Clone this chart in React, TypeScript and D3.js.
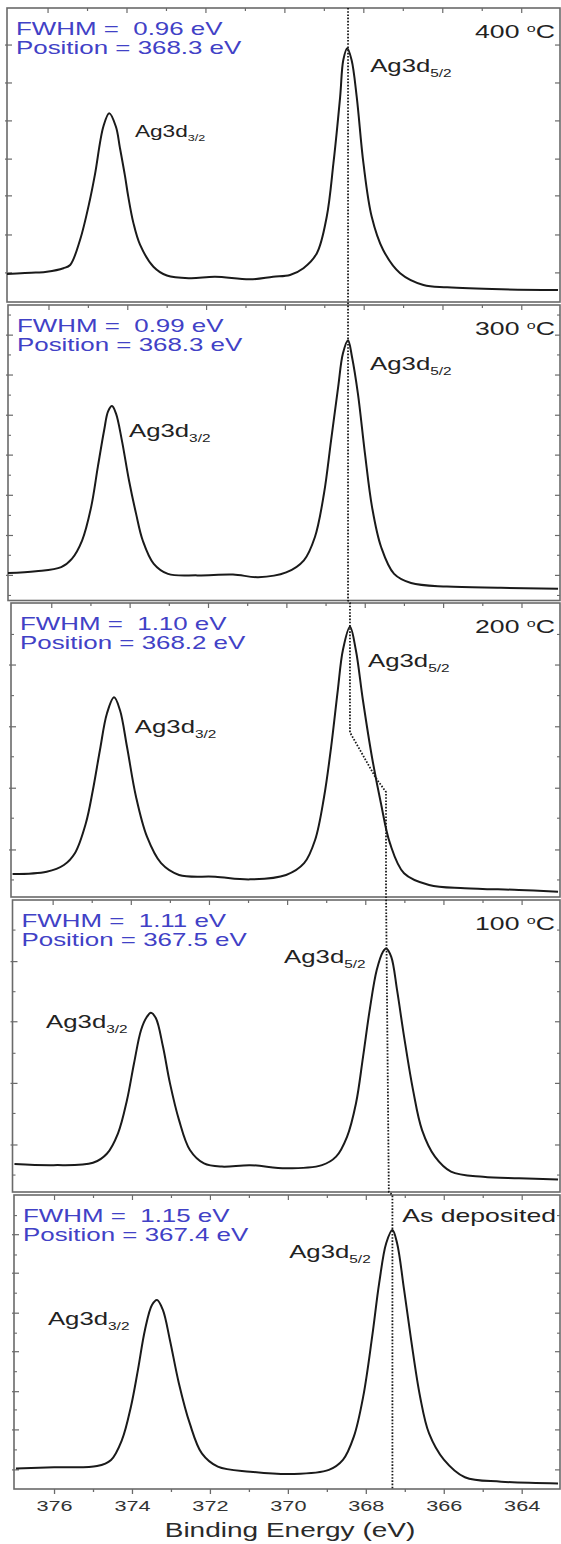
import * as d3 from "d3";

// ---- data (binding energy in eV, intensity in % of panel height) ----
const temperatures = ["400", "300", "200", "100", "As deposited"];
const fwhmValues = ["0.96", "0.99", "1.10", "1.11", "1.15"];
const positionValues = ["368.3", "368.3", "368.2", "367.5", "367.4"];

const spectrum400 = [
  [377.04, 9.5], [376.31, 10.0], [376.03, 10.3], [375.61, 11.5], [375.44, 12.6], [375.19, 21.1],
  [374.94, 34.7], [374.81, 43.5], [374.6, 59.6], [374.45, 64.2], [374.28, 59.6], [374.18, 52.5],
  [374.05, 42.8], [373.97, 36.0], [373.84, 27.0], [373.67, 19.5], [373.33, 12.0], [372.99, 9.0],
  [372.4, 8.1], [371.77, 8.6], [370.88, 7.7], [370.3, 8.6], [369.87, 9.2], [369.53, 11.5],
  [369.19, 16.6], [368.94, 29.0], [368.77, 47.2], [368.6, 69.8], [368.52, 82.3], [368.42, 86.3],
  [368.31, 82.3], [368.18, 69.8], [368.01, 47.2], [367.8, 29.0], [367.51, 17.7], [367.08, 9.8],
  [366.49, 5.8], [365.89, 5.0], [364.52, 4.3], [363.08, 4.1],
];

const spectrum300 = [
  [377.04, 9.3], [376.33, 9.9], [375.69, 11.3], [375.42, 14.1], [375.16, 20.3], [374.93, 31.6],
  [374.76, 45.2], [374.6, 57.6], [374.5, 64.0], [374.4, 65.8], [374.3, 63.3], [374.15, 54.2],
  [373.97, 40.7], [373.79, 29.4], [373.62, 20.3], [373.34, 12.4], [372.98, 9.0], [372.24, 8.5],
  [371.33, 8.8], [370.69, 7.9], [369.98, 9.5], [369.53, 13.6], [369.25, 21.5], [369.02, 36.2],
  [368.84, 54.2], [368.66, 72.3], [368.54, 83.6], [368.41, 88.1], [368.31, 82.5], [368.16, 70.1],
  [367.98, 49.7], [367.8, 31.6], [367.57, 18.1], [367.24, 9.0], [366.81, 5.9], [365.9, 4.7],
  [364.53, 4.3], [363.08, 4.0],
];

const spectrum200 = [
  [377.0, 7.8], [376.13, 8.6], [375.69, 10.9], [375.41, 14.9], [375.13, 25.1], [374.95, 36.4],
  [374.77, 50.0], [374.59, 62.5], [374.41, 67.9], [374.26, 63.6], [374.08, 51.1], [373.85, 34.1],
  [373.57, 20.5], [373.21, 11.5], [372.75, 7.5], [371.83, 6.9], [370.94, 6.0], [370.02, 7.5],
  [369.56, 11.5], [369.28, 19.4], [369.05, 34.1], [368.87, 51.1], [368.7, 70.4], [368.57, 84.0],
  [368.39, 91.9], [368.24, 84.0], [368.06, 67.0], [367.83, 47.7], [367.6, 31.9], [367.37, 18.3],
  [367.01, 8.1], [366.37, 4.1], [365.46, 3.0], [364.08, 2.4], [363.08, 1.8],
];

const spectrum100 = [
  [376.99, 9.6], [375.99, 9.2], [374.98, 10.0], [374.62, 13.2], [374.34, 20.1], [374.11, 31.5],
  [373.93, 44.1], [373.75, 55.5], [373.6, 60.0], [373.5, 61.4], [373.37, 59.5], [373.19, 49.8],
  [373.01, 37.2], [372.78, 24.7], [372.5, 14.4], [372.14, 9.8], [371.68, 8.7], [370.96, 9.2],
  [370.04, 8.1], [369.12, 9.2], [368.76, 12.1], [368.48, 18.9], [368.25, 30.4], [368.07, 46.3],
  [367.9, 62.3], [367.72, 76.0], [367.56, 82.3], [367.48, 83.4], [367.35, 80.6], [367.2, 69.2],
  [367.02, 53.2], [366.79, 34.9], [366.56, 21.2], [366.23, 12.1], [365.82, 7.0], [365.0, 5.2],
  [364.08, 4.7], [363.08, 4.3],
];

const spectrumAsDep = [
  [376.99, 7.0], [376.01, 7.4], [374.91, 7.8], [374.55, 9.9], [374.27, 16.7], [374.04, 28.0],
  [373.86, 40.5], [373.68, 54.1], [373.5, 62.6], [373.37, 64.3], [373.22, 60.9], [373.04, 50.7],
  [372.81, 36.0], [372.53, 22.3], [372.22, 12.1], [371.81, 7.6], [370.98, 5.9], [369.88, 5.1],
  [368.96, 6.5], [368.6, 9.9], [368.32, 17.8], [368.08, 31.4], [367.85, 51.8], [367.67, 70.0],
  [367.49, 83.6], [367.33, 88.1], [367.21, 83.6], [367.03, 67.7], [366.85, 50.7], [366.62, 31.4],
  [366.39, 18.9], [366.01, 10.0], [365.47, 4.0], [364.54, 2.5], [363.08, 1.9],
];

const spectra = [spectrum400, spectrum300, spectrum200, spectrum100, spectrumAsDep];

// y tick positions (a.u., % of panel height)
const yMajor = [
  [9.9, 22.8, 36.1, 48.6, 61.6, 74.5, 87.4],
  [8.5, 22.0, 35.6, 49.2, 62.7, 76.3, 89.8],
  [16.0, 37.0, 57.9, 78.9],
  [16.1, 37.2, 58.3, 78.9],
  [6.5, 20.1, 33.1, 46.7, 59.8, 73.4, 86.5],
];
const yMinor = [
  [],
  [1.7, 15.3, 28.8, 42.4, 55.9, 69.5, 83.1, 96.6],
  [5.8, 26.8, 47.7, 68.5, 89.3],
  [5.8, 26.9, 47.5, 68.6, 89.7],
  [13.3, 26.9, 39.9, 53.0, 66.6, 79.6, 93.0],
];

// peak label anchors [eV, intensity]
const label52 = [[367.84, 78.2], [367.85, 78.0], [367.93, 78.2], [370.09, 78.4], [369.98, 78.6]];
const label32 = [[373.8, 56.1], [373.97, 55.3], [373.88, 55.8], [376.18, 56.2], [376.17, 55.8]];

// dotted guide line: [panel, eV, intensity]
const guide = [
  [0, 368.4, 100], [0, 368.4, 0], [1, 368.41, 100], [1, 368.41, 0],
  [2, 368.39, 100], [2, 368.39, 56], [2, 367.73, 40.5], [2, 367.47, 35.7], [2, 367.47, 0],
  [3, 367.48, 100], [3, 367.41, 0], [4, 367.33, 100], [4, 367.33, 0],
];

const xTickValues = d3.range(364, 377);
const xLabelValues = [376, 374, 372, 370, 368, 366, 364];

// ---- layout ----
const W = 561;
const H = 1544;
const RIGHT = 560;
const X_DOMAIN = [377.04, 363.03];
const PANELS = [
  { left: 7, top: 8, bottom: 302 },
  { left: 8, top: 305, bottom: 600.5 },
  { left: 11, top: 603, bottom: 897 },
  { left: 12.5, top: 900, bottom: 1192 },
  { left: 14, top: 1195, bottom: 1489 },
];
const SX = 1.4; // the original figure is stretched horizontally
const FONT = "'Liberation Sans', Arial, Helvetica, sans-serif";
const BLUE = "#4141c6";
const INK = "#222";
const FRAME = "#6a6a6a";

const scalesFor = (i) => {
  const p = PANELS[i];
  const x = d3.scaleLinear().domain(X_DOMAIN).range([p.left, RIGHT]);
  const y = d3.scaleLinear().domain([0, 100]).range([p.bottom, p.top]);
  return { x, y };
};

const Txt = ({ x, y, size, fill = INK, anchor = "start", children }) => (
  <text
    transform={`translate(${x},${y}) scale(${SX},1)`}
    fontSize={size}
    fill={fill}
    textAnchor={anchor}
    fontFamily={FONT}
    style={{ whiteSpace: "pre" }}
  >
    {children}
  </text>
);

const Panel = ({ i }) => {
  const p = PANELS[i];
  const { x, y } = scalesFor(i);
  const line = d3
    .line()
    .x((d) => x(d[0]))
    .y((d) => y(d[1]))
    .curve(d3.curveCatmullRom.alpha(0.5));
  const [l52x, l52y] = label52[i];
  const [l32x, l32y] = label32[i];
  const small32 = i === 0;

  return (
    <g>
      <rect x={p.left} y={p.top} width={RIGHT - p.left} height={p.bottom - p.top} fill="#fff" stroke={FRAME} strokeWidth={1.6} />
      {/* top ticks */}
      {xTickValues.map((t) => (
        <line key={`xt${t}`} x1={x(t)} x2={x(t)} y1={p.top} y2={p.top + (t % 2 === 0 ? 5 : 3)} stroke={FRAME} strokeWidth={1.2} />
      ))}
      {/* y ticks both sides */}
      {yMajor[i].map((t) => (
        <g key={`ym${t}`}>
          <line x1={p.left - 2} x2={p.left + 5} y1={y(t)} y2={y(t)} stroke={FRAME} strokeWidth={1.2} />
          <line x1={RIGHT - 5} x2={RIGHT} y1={y(t)} y2={y(t)} stroke={FRAME} strokeWidth={1.2} />
        </g>
      ))}
      {yMinor[i].map((t) => (
        <g key={`yn${t}`}>
          <line x1={p.left} x2={p.left + 3} y1={y(t)} y2={y(t)} stroke={FRAME} strokeWidth={1.1} />
          <line x1={RIGHT - 3} x2={RIGHT} y1={y(t)} y2={y(t)} stroke={FRAME} strokeWidth={1.1} />
        </g>
      ))}
      <path d={line(spectra[i])} fill="none" stroke="#1a1a1a" strokeWidth={2} strokeLinejoin="round" />

      <Txt x={p.left + 9} y={p.top + 27} size={18.5} fill={BLUE}>{`FWHM =  ${fwhmValues[i]} eV`}</Txt>
      <Txt x={p.left + 9} y={p.top + 46} size={18.5} fill={BLUE}>{`Position = ${positionValues[i]} eV`}</Txt>

      {i < 4 ? (
        <Txt x={555} y={p.top + 30} size={19} anchor="end">
          {`${temperatures[i]} `}
          <tspan dy={-6} fontSize={11.5}>o</tspan>
          <tspan dy={6}>C</tspan>
        </Txt>
      ) : (
        <Txt x={556} y={p.top + 27} size={19} anchor="end">{temperatures[i]}</Txt>
      )}

      <Txt x={x(l52x)} y={y(l52y)} size={18.4}>
        Ag3d<tspan dy={5} fontSize={11}>5/2</tspan>
      </Txt>
      <Txt x={x(l32x)} y={y(l32y)} size={small32 ? 16.2 : 18.4}>
        Ag3d<tspan dy={small32 ? 4 : 5} fontSize={small32 ? 9 : 11}>3/2</tspan>
      </Txt>
    </g>
  );
};

export default function App() {
  const guidePath = d3.line()(
    guide.map(([pi, e, v]) => {
      const { x, y } = scalesFor(pi);
      return [x(e), y(v)];
    })
  );
  const bottom = scalesFor(4);
  const pb = PANELS[4];

  return (
    <svg
      width={W}
      height={H}
      viewBox={`0 0 ${W} ${H}`}
      style={{ position: "absolute", left: 0, top: 0, background: "#fff" }}
    >
      {PANELS.map((_, i) => (
        <Panel key={i} i={i} />
      ))}
      <path d={guidePath} fill="none" stroke="#1a1a1a" strokeWidth={1.8} strokeDasharray="1.6 1.6" />

      {/* bottom axis */}
      {xTickValues.map((t) => (
        <line key={`bt${t}`} x1={bottom.x(t)} x2={bottom.x(t)} y1={pb.bottom} y2={pb.bottom + (t % 2 === 0 ? 5 : 3)} stroke={FRAME} strokeWidth={1.3} />
      ))}
      {xLabelValues.map((t) => (
        <Txt key={`bl${t}`} x={bottom.x(t)} y={1511} size={15.5} fill="#333" anchor="middle">
          {String(t)}
        </Txt>
      ))}
      <Txt x={290} y={1537} size={20} fill="#2a2a2a" anchor="middle">
        Binding Energy (eV)
      </Txt>
    </svg>
  );
}
